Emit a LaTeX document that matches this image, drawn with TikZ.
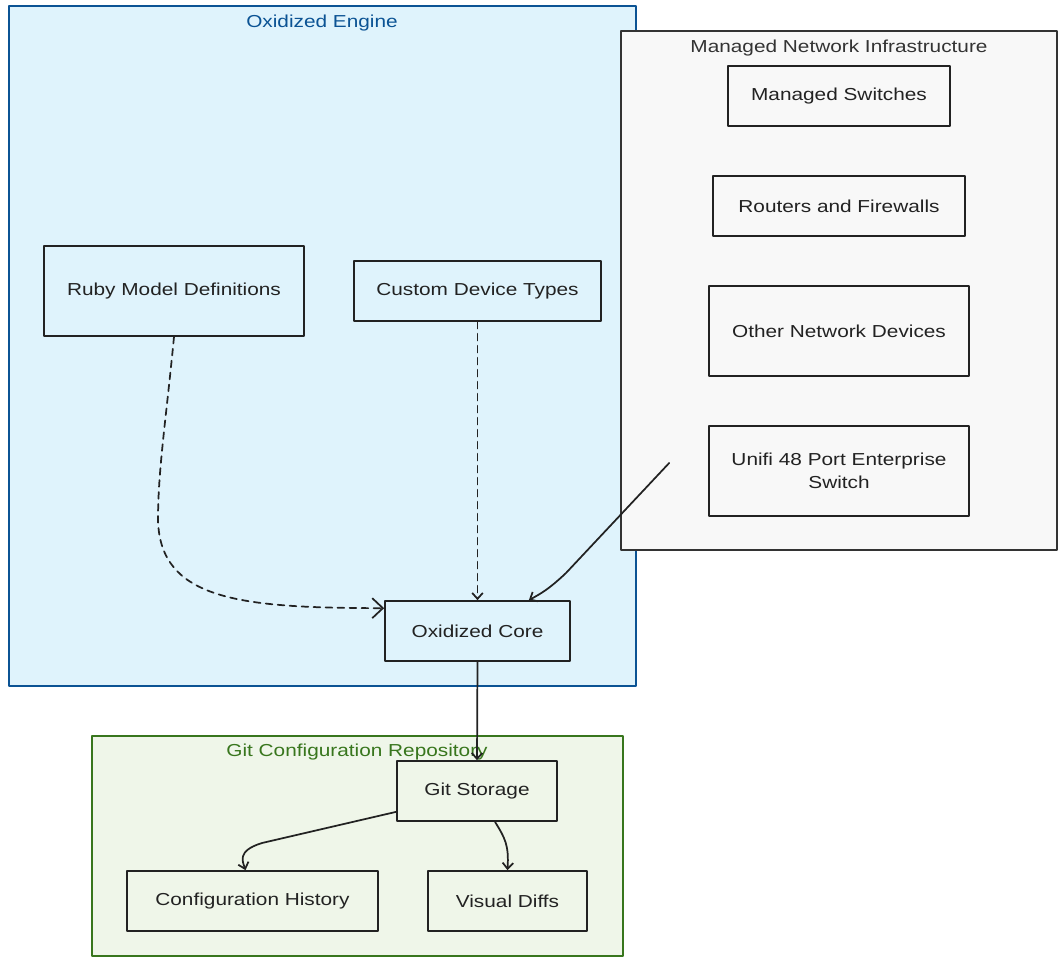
\documentclass[tikz,border=0pt]{standalone}
\usepackage{fontspec}
\setmainfont{Liberation Sans}[FakeStretch=1.2]
\usetikzlibrary{arrows.meta,calc}

\definecolor{engfill}{RGB}{223,243,252}
\definecolor{engline}{RGB}{11,83,148}
\definecolor{netfill}{RGB}{248,248,248}
\definecolor{netline}{RGB}{51,51,51}
\definecolor{gitfill}{RGB}{239,246,233}
\definecolor{gitline}{RGB}{56,118,29}
\definecolor{inkc}{RGB}{34,34,34}

\begin{document}
\begin{tikzpicture}[x=.75pt,y=-.75pt,line cap=round,line join=round,
    >={Straight Barb[length=4.5pt,width=8pt]},
    box/.style={draw=inkc,line width=1.25pt,text=inkc,align=center,
      inner sep=0pt,font=\fontsize{13}{17}\selectfont},
    grouptitle/.style={font=\fontsize{13}{15}\selectfont,inner sep=1pt},
    flow/.style={->,draw=inkc,line width=1.3pt},
    link/.style={flow,dash pattern=on 5pt off 4pt}]
    \useasboundingbox (0,0) rectangle (1064,961);

    % The three groups: engine, network gear and the git repository.
    \filldraw[fill=engfill,draw=engline,line width=1.3pt] (9,6) rectangle (636,686);
    \node[grouptitle,text=engline] (engtitle) at (322,23) {Oxidized Engine};
    \filldraw[fill=netfill,draw=netline,line width=1.3pt] (621,31) rectangle (1057,550);
    \node[grouptitle,text=netline] (nettitle) at (839,48) {Managed Network Infrastructure};
    \filldraw[fill=gitfill,draw=gitline,line width=1.3pt] (92,736) rectangle (623,956);
    \node[grouptitle,text=gitline] (gittitle) at (357,752) {Git Configuration Repository};

    % Devices on the right.
    \node[box,minimum width=166.5pt,minimum height=45pt] (switches) at (839,96) {Managed Switches};
    \node[box,minimum width=189pt,minimum height=45pt] (routers) at (839,206) {Routers and Firewalls};
    \node[box,minimum width=195pt,minimum height=67.5pt] (otherdev) at (839,331) {Other Network Devices};
    \node[box,minimum width=195pt,minimum height=67.5pt] (unifi) at (839,471) {Unifi 48 Port Enterprise\\Switch};

    % Engine parts.
    \node[box,minimum width=195pt,minimum height=67.5pt] (ruby) at (174,291) {Ruby Model Definitions};
    \node[box,minimum width=185.25pt,minimum height=45pt] (custom) at (477.5,291) {Custom Device Types};
    \node[box,minimum width=138.75pt,minimum height=45pt] (core) at (477.5,631) {Oxidized Core};

    % Repository parts.
    \node[box,minimum width=120pt,minimum height=45pt] (git) at (477,791) {Git Storage};
    \node[box,minimum width=188.25pt,minimum height=45pt] (history) at (252.5,901) {Configuration History};
    \node[box,minimum width=119.25pt,minimum height=45pt] (diffs) at (507.5,901) {Visual Diffs};

    % Connectors.  The device link starts inside the network group.
    \coordinate (unifiout) at ($(unifi.west)+(-39,-8)$);
    \draw[link,>={Straight Barb[length=8pt,width=15pt]}] (ruby.south)
      .. controls (166,420) and (158,470) .. (158,520)
      .. controls (160,600) and (240,608) .. ($(core.north west)+(0,8)$);
    \draw[link] (custom.south) -- (core.north);
    \draw[flow] (unifiout) -- (566,573)
      .. controls (548,590) and (540,594) .. ($(core.north east)+(-42,0)$);
    \draw[flow] (core.south) -- (git.north);
    \draw[flow] ($(git.south west)+(0,-10)$) -- (262,843)
      .. controls (236,851) and (243,862) .. ($(history.north)+(-7,0)$);
    \draw[flow] ($(git.south)+(18,0)$)
      .. controls (505,838) and (509,845) .. (diffs.north);
\end{tikzpicture}
\end{document}
